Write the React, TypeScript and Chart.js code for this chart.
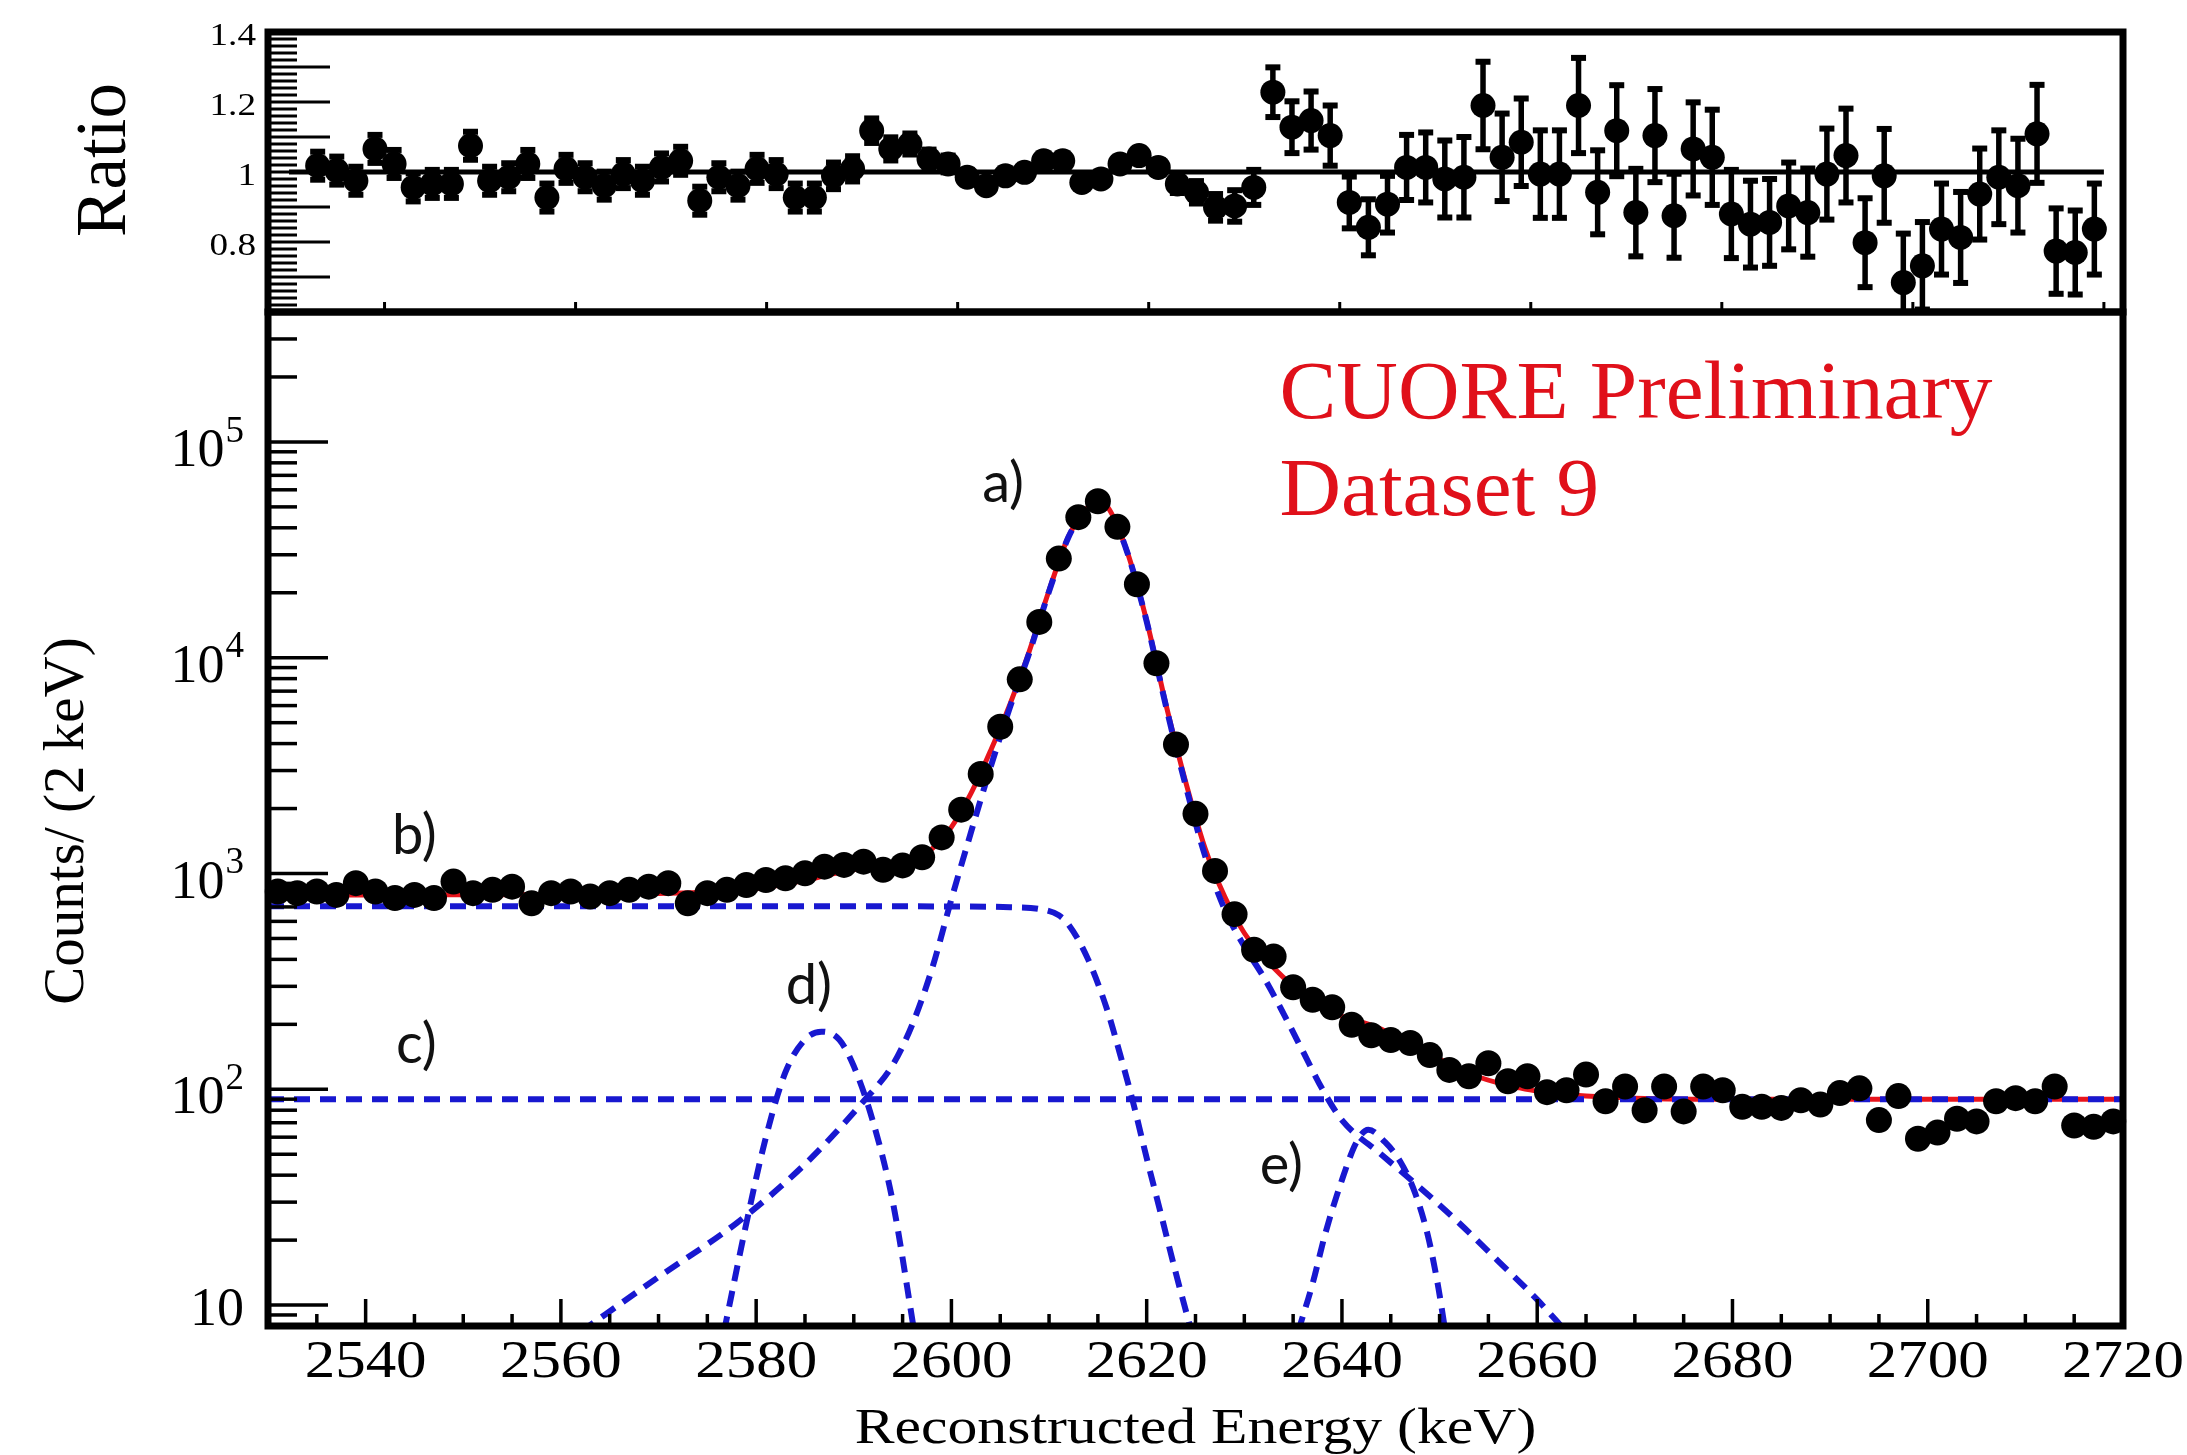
import { useEffect, useRef } from "react";
import { Chart, registerables } from "chart.js";

Chart.register(...registerables);

// ---------------- page / pad layout (pixels) ----------------
const PAGE_W = 2187;
const PAGE_H = 1455;
const FRAME_LEFT = 268;
const FRAME_RIGHT = 2123;
const RATIO_TOP = 32;
const PAD_SPLIT = 312;
const MAIN_BOTTOM = 1326;

const SERIF = "'Liberation Serif', 'Times New Roman', serif";
const SANS = "Lato, 'Open Sans', 'Liberation Sans', sans-serif";

// ---------------- data: main spectrum (2 keV bins) ----------------
const energies = [
  2531, 2533, 2535, 2537, 2539, 2541, 2543, 2545, 2547, 2549,
  2551, 2553, 2555, 2557, 2559, 2561, 2563, 2565, 2567, 2569,
  2571, 2573, 2575, 2577, 2579, 2581, 2583, 2585, 2587, 2589,
  2591, 2593, 2595, 2597, 2599, 2601, 2603, 2605, 2607, 2609,
  2611, 2613, 2615, 2617, 2619, 2621, 2623, 2625, 2627, 2629,
  2631, 2633, 2635, 2637, 2639, 2641, 2643, 2645, 2647, 2649,
  2651, 2653, 2655, 2657, 2659, 2661, 2663, 2665, 2667, 2669,
  2671, 2673, 2675, 2677, 2679, 2681, 2683, 2685, 2687, 2689,
  2691, 2693, 2695, 2697, 2699, 2701, 2703, 2705, 2707, 2709,
  2711, 2713, 2715, 2717, 2719,
];
const counts = [
  825, 811, 825, 796, 902, 825, 769, 796, 769, 917,
  811, 840, 869, 728, 811, 825, 782, 811, 840, 869,
  902, 728, 811, 840, 885, 933, 950, 1003, 1076, 1096,
  1135, 1040, 1090, 1190, 1470, 1976, 2890, 4790, 7940, 14650,
  28800, 44800, 53100, 40400, 21900, 9420, 3960, 1890, 1028, 648,
  443, 413, 297, 260, 240, 199, 178, 169, 164, 144,
  123, 115, 132, 109, 115, 97, 99, 117, 88, 103,
  80, 103, 79, 103, 99, 83, 83, 82, 89, 85,
  96, 101, 72, 93, 59, 63, 73, 71, 88, 91,
  88, 103, 68, 67, 71,
];

// total fit (red)
const totalFitX = [
  2530, 2540, 2550, 2560, 2570, 2575, 2580, 2585, 2588, 2591,
  2594, 2596, 2598, 2600, 2602, 2604, 2606, 2608, 2610, 2612,
  2614, 2615, 2616, 2618, 2620, 2622, 2624, 2626, 2628, 2630,
  2632, 2634, 2636, 2638, 2640, 2642, 2644, 2646, 2648, 2650,
  2652, 2654, 2656, 2658, 2660, 2665, 2670, 2680, 2700, 2720,
];
const totalFitY = [
  795, 795, 797, 800, 808, 818, 850, 930, 1000, 1060,
  1110, 1170, 1300, 1640, 2350, 3700, 6100, 10800, 20500, 36500,
  50000, 53000, 50000, 31000, 14800, 6000, 2650, 1300, 780, 530,
  410, 330, 275, 240, 218, 205, 190, 170, 155, 138,
  124, 114, 107, 102, 98, 93, 91, 90, 90, 90,
];

// component a) : 2615 keV peak
const compAX = [
  2562, 2570, 2578, 2585, 2591, 2594, 2596, 2598, 2600, 2602,
  2604, 2606, 2608, 2610, 2612, 2614, 2615, 2616, 2618, 2620,
  2622, 2624, 2626, 2628, 2630, 2632, 2634, 2636, 2638, 2640,
  2644, 2648, 2652, 2656, 2660, 2663,
];
const compAY = [
  7.5, 13.5, 24, 45, 88, 130, 200, 360, 760, 1550,
  3100, 5900, 10600, 20300, 36300, 49800, 52900, 49900, 30900, 14700,
  5900, 2550, 1200, 680, 460, 330, 225, 150, 100, 72,
  50, 35, 24, 16, 10.6, 7.5,
];
// component b) : step continuum
const compBX = [2530, 2560, 2590, 2600, 2606, 2609, 2611, 2612, 2614, 2616, 2617.3, 2618.5, 2620, 2621.5, 2623, 2624.6];
const compBY = [705, 705, 705, 703, 698, 685, 640, 580, 400, 230, 144, 91, 48, 26, 14, 7.5];
// component c) : flat background
const compCX = [2530, 2720];
const compCY = [90, 90];
// component d) : peak near 2587 keV
const compDX = [2576.7, 2579, 2581, 2583, 2585, 2586.7, 2588.5, 2590, 2592, 2594, 2596.2];
const compDY = [7.5, 24, 60, 120, 170, 185, 170, 128, 70, 30, 7.5];
// component e) : peak near 2643 keV
const compEX = [2635.5, 2637, 2638.3, 2640, 2641.5, 2642.7, 2644.4, 2646, 2647.5, 2648.8, 2649.8, 2650.6];
const compEY = [7.5, 12.6, 21.5, 38, 57, 65, 57, 46, 33, 21, 12.6, 7.5];

// ---------------- data: ratio panel ----------------
const ratioEnergies = [
  2533, 2535, 2537, 2539, 2541, 2543, 2545, 2547, 2549, 2551,
  2553, 2555, 2557, 2559, 2561, 2563, 2565, 2567, 2569, 2571,
  2573, 2575, 2577, 2579, 2581, 2583, 2585, 2587, 2589, 2591,
  2593, 2595, 2597, 2599, 2601, 2603, 2605, 2607, 2609, 2611,
  2613, 2615, 2617, 2619, 2621, 2623, 2625, 2627, 2629, 2631,
  2633, 2635, 2637, 2639, 2641, 2643, 2645, 2647, 2649, 2651,
  2653, 2655, 2657, 2659, 2661, 2663, 2665, 2667, 2669, 2671,
  2673, 2675, 2677, 2679, 2681, 2683, 2685, 2687, 2689, 2691,
  2693, 2695, 2697, 2699, 2701, 2703, 2705, 2707, 2709, 2711,
  2713, 2715, 2717, 2719,
];
const ratioValues = [
  1.018, 1.004, 0.975, 1.066, 1.023, 0.956, 0.966, 0.966, 1.075, 0.975,
  0.985, 1.023, 0.927, 1.009, 0.985, 0.961, 0.994, 0.975, 1.013, 1.032,
  0.918, 0.985, 0.961, 1.009, 0.994, 0.927, 0.927, 0.989, 1.009, 1.118,
  1.066, 1.08, 1.037, 1.023, 0.985, 0.961, 0.989, 0.999, 1.032, 1.032,
  0.97, 0.98, 1.023, 1.047, 1.013, 0.966, 0.942, 0.899, 0.903, 0.956,
  1.228, 1.128, 1.147, 1.104, 0.913, 0.842, 0.908, 1.013, 1.013, 0.98,
  0.985, 1.19, 1.042, 1.085, 0.994, 0.994, 1.19, 0.942, 1.118, 0.884,
  1.104, 0.875, 1.066, 1.042, 0.88, 0.851, 0.856, 0.903, 0.884, 0.994,
  1.047, 0.798, 0.989, 0.684, 0.732, 0.837, 0.813, 0.937, 0.985, 0.961,
  1.109, 0.774, 0.77, 0.837,
];
const ratioErrors = [
  0.04, 0.04, 0.04, 0.04, 0.04, 0.04, 0.04, 0.04, 0.04, 0.04,
  0.04, 0.04, 0.04, 0.04, 0.04, 0.04, 0.04, 0.04, 0.04, 0.04,
  0.04, 0.04, 0.04, 0.04, 0.04, 0.04, 0.04, 0.038, 0.036, 0.035,
  0.033, 0.03, 0.027, 0.024, 0.02, 0.016, 0.012, 0.01, 0.01, 0.01,
  0.01, 0.01, 0.012, 0.015, 0.02, 0.026, 0.032, 0.038, 0.045, 0.05,
  0.071, 0.074, 0.083, 0.086, 0.074, 0.08, 0.081, 0.093, 0.1, 0.11,
  0.115, 0.125, 0.125, 0.125, 0.125, 0.125, 0.136, 0.12, 0.13, 0.125,
  0.133, 0.12, 0.133, 0.136, 0.126, 0.124, 0.124, 0.124, 0.126, 0.13,
  0.134, 0.127, 0.134, 0.14, 0.125, 0.13, 0.13, 0.13, 0.134, 0.134,
  0.14, 0.122, 0.12, 0.13,
];
const ratioFitX = [2530, 2720];
const ratioFitY = [1, 1];

// ---------------- ticks / labels ----------------
const energyTickLabels = [2540, 2560, 2580, 2600, 2620, 2640, 2660, 2680, 2700, 2720];
const ratioTickValues = [1.4, 1.2, 1, 0.8];
const ratioTickTexts = ["1.4", "1.2", "1", "0.8"];
const logTickExponents = [1, 2, 3, 4, 5];
const componentLabels = ["a)", "b)", "c)", "d)", "e)"];
const componentLabelEnergy = [2605.3, 2545.0, 2545.2, 2585.4, 2633.8];
const componentLabelCounts = [63800, 1493, 161, 301, 44.2];
const titleLines = ["CUORE Preliminary", "Dataset 9"];
const titleEnergy = 2633.6;
const titleCounts = [129200, 45900];

function pts(xs: number[], ys: number[]) {
  return xs.map((x, i) => ({ x, y: ys[i] }));
}

function drawText(
  ctx: CanvasRenderingContext2D,
  text: string,
  x: number,
  y: number,
  font: string,
  align: CanvasTextAlign,
  baseline: CanvasTextBaseline,
  sx = 1,
  color = "#000",
  rot = 0
) {
  ctx.save();
  ctx.translate(x, y);
  if (rot) ctx.rotate(rot);
  ctx.scale(sx, 1);
  ctx.font = font;
  ctx.fillStyle = color;
  ctx.textAlign = align;
  ctx.textBaseline = baseline;
  ctx.fillText(text, 0, 0);
  ctx.restore();
}

function hline(ctx: CanvasRenderingContext2D, x1: number, y1: number, x2: number, y2: number) {
  ctx.beginPath();
  ctx.moveTo(x1, y1);
  ctx.lineTo(x2, y2);
  ctx.stroke();
}

const ratioDecor = {
  id: "ratioDecor",
  beforeDatasetsDraw(chart: any) {
    const { ctx, chartArea: a } = chart;
    const xs = chart.scales.x;
    const ys = chart.scales.y;
    ctx.save();
    ctx.beginPath();
    ctx.rect(a.left, a.top, a.right - a.left, a.bottom - a.top);
    ctx.clip();
    ctx.strokeStyle = "#000";
    ctx.fillStyle = "#000";
    ctx.lineWidth = 5.5;
    ratioEnergies.forEach((e, i) => {
      const px = xs.getPixelForValue(e);
      const y1 = ys.getPixelForValue(ratioValues[i] + ratioErrors[i]);
      const y2 = ys.getPixelForValue(ratioValues[i] - ratioErrors[i]);
      hline(ctx, px, y1, px, y2);
      ctx.fillRect(px - 7.5, y1 - 3, 15, 6);
      ctx.fillRect(px - 7.5, y2 - 3, 15, 6);
    });
    ctx.restore();
  },
  afterDraw(chart: any) {
    const { ctx, chartArea: a } = chart;
    const xs = chart.scales.x;
    const ys = chart.scales.y;
    ctx.save();
    ctx.strokeStyle = "#000";
    ctx.lineWidth = 3;
    // y ticks: major 0.1, minor 0.02
    for (let k = 31; k <= 69; k++) {
      const v = k / 50;
      if (v <= ys.min + 1e-9 || v >= ys.max - 1e-9) continue;
      const py = ys.getPixelForValue(v);
      const len = k % 5 === 0 ? 62 : 29;
      hline(ctx, a.left, py, a.left + len, py);
    }
    // x ticks
    for (const v of energyTickLabels) {
      const px = xs.getPixelForValue(v);
      hline(ctx, px, a.bottom, px, a.bottom - 10);
    }
    // frame
    ctx.lineWidth = 7;
    ctx.strokeRect(a.left, a.top, a.right - a.left, a.bottom - a.top);
    ctx.restore();
    // labels
    ratioTickValues.forEach((v, i) => {
      drawText(ctx, ratioTickTexts[i], 256, ys.getPixelForValue(v) + 5, `31px ${SERIF}`, "right", "middle", 1.2);
    });
    drawText(ctx, "Ratio", 106, 160, `71px ${SERIF}`, "center", "middle", 1, "#000", -Math.PI / 2);
  },
};

const mainDecor = {
  id: "mainDecor",
  afterDraw(chart: any) {
    const { ctx, chartArea: a } = chart;
    const xs = chart.scales.x;
    const ys = chart.scales.y;
    ctx.save();
    ctx.strokeStyle = "#000";
    ctx.lineWidth = 3.5;
    // log y ticks
    for (let n = 0; n <= 5; n++) {
      for (let m = 1; m <= 9; m++) {
        const v = m * Math.pow(10, n);
        if (v <= ys.min || v >= ys.max) continue;
        const py = ys.getPixelForValue(v);
        hline(ctx, a.left, py, a.left + (m === 1 ? 60 : 29), py);
      }
    }
    // x ticks
    for (let v = 2535; v < 2720; v += 5) {
      const px = xs.getPixelForValue(v);
      const len = (v - 2520) % 20 === 0 ? 27 : 12;
      hline(ctx, px, a.bottom, px, a.bottom - len);
    }
    ctx.lineWidth = 7;
    ctx.strokeRect(a.left, a.top, a.right - a.left, a.bottom - a.top);
    ctx.restore();

    // y labels
    for (const e of logTickExponents) {
      const py = ys.getPixelForValue(Math.pow(10, e));
      if (e === 1) {
        drawText(ctx, "10", 244, py + 6, `54px ${SERIF}`, "right", "middle");
      } else {
        ctx.save();
        ctx.font = `37px ${SERIF}`;
        const w = ctx.measureText(String(e)).width;
        ctx.restore();
        drawText(ctx, String(e), 244, py - 10, `37px ${SERIF}`, "right", "middle");
        drawText(ctx, "10", 244 - w - 1, py + 10, `54px ${SERIF}`, "right", "middle");
      }
    }
    // x labels
    for (const v of energyTickLabels) {
      drawText(ctx, String(v), xs.getPixelForValue(v), 1363, `53px ${SERIF}`, "center", "middle", 1.15);
    }
    drawText(ctx, "Reconstructed Energy (keV)", (a.left + a.right) / 2, 1443, `51px ${SERIF}`, "center", "alphabetic", 1.17);
    drawText(ctx, "Counts/ (2 keV)", 68, 821, `57px ${SERIF}`, "center", "middle", 1, "#000", -Math.PI / 2);

    // component labels
    componentLabels.forEach((t, i) => {
      drawText(
        ctx,
        t,
        xs.getPixelForValue(componentLabelEnergy[i]),
        ys.getPixelForValue(componentLabelCounts[i]),
        `56px ${SANS}`,
        "center",
        "middle",
        1,
        "#111"
      );
    });
    // preliminary title
    titleLines.forEach((t, i) => {
      drawText(
        ctx,
        t,
        xs.getPixelForValue(titleEnergy),
        ys.getPixelForValue(titleCounts[i]),
        `82px ${SERIF}`,
        "left",
        "alphabetic",
        1.04,
        "#e0101a"
      );
    });
  },
};

const BLUE = "#1818d0";
const RED = "#e8141c";

function dashed(xsArr: number[], ysArr: number[], tension: boolean) {
  return {
    data: pts(xsArr, ysArr),
    showLine: true,
    borderColor: BLUE,
    backgroundColor: BLUE,
    borderWidth: 6,
    borderDash: [16, 10],
    pointRadius: 0,
    cubicInterpolationMode: tension ? "monotone" : "default",
    order: 1,
  };
}

export default function App() {
  const ratioRef = useRef<HTMLCanvasElement>(null);
  const mainRef = useRef<HTMLCanvasElement>(null);

  useEffect(() => {
    const ratioChart = new Chart(ratioRef.current as HTMLCanvasElement, {
      type: "scatter",
      data: {
        datasets: [
          {
            data: pts(ratioFitX, ratioFitY),
            showLine: true,
            borderColor: "#000",
            borderWidth: 5,
            pointRadius: 0,
            order: 2,
          } as any,
          {
            data: pts(ratioEnergies, ratioValues),
            backgroundColor: "#000",
            borderColor: "#000",
            borderWidth: 0,
            pointRadius: 12.5,
            order: 0,
          } as any,
        ],
      },
      options: {
        responsive: false,
        animation: false,
        devicePixelRatio: 1,
        events: [],
        layout: {
          padding: { left: FRAME_LEFT, right: PAGE_W - FRAME_RIGHT, top: RATIO_TOP, bottom: PAGE_H - PAD_SPLIT },
        },
        scales: {
          x: { type: "linear", display: false, min: 2527.8, max: 2722, bounds: "data" } as any,
          y: { type: "linear", display: false, min: 0.6, max: 1.4, bounds: "data" } as any,
        },
        plugins: { legend: { display: false }, tooltip: { enabled: false } },
      } as any,
      plugins: [ratioDecor],
    });

    const mainChart = new Chart(mainRef.current as HTMLCanvasElement, {
      type: "scatter",
      data: {
        datasets: [
          {
            data: pts(totalFitX, totalFitY),
            showLine: true,
            borderColor: RED,
            borderWidth: 5,
            pointRadius: 0,
            cubicInterpolationMode: "monotone",
            order: 2,
          } as any,
          dashed(compAX, compAY, true) as any,
          dashed(compBX, compBY, true) as any,
          dashed(compCX, compCY, false) as any,
          dashed(compDX, compDY, true) as any,
          dashed(compEX, compEY, true) as any,
          {
            data: pts(energies, counts),
            backgroundColor: "#000",
            borderColor: "#000",
            borderWidth: 0,
            pointRadius: 13,
            clip: false,
            order: 0,
          } as any,
        ],
      },
      options: {
        responsive: false,
        animation: false,
        devicePixelRatio: 1,
        events: [],
        layout: {
          padding: { left: FRAME_LEFT, right: PAGE_W - FRAME_RIGHT, top: PAD_SPLIT, bottom: PAGE_H - MAIN_BOTTOM },
        },
        scales: {
          x: { type: "linear", display: false, min: 2530, max: 2720, bounds: "data" } as any,
          y: { type: "logarithmic", display: false, min: 8, max: 400000, bounds: "data" } as any,
        },
        plugins: { legend: { display: false }, tooltip: { enabled: false } },
      } as any,
      plugins: [mainDecor],
    });

    return () => {
      ratioChart.destroy();
      mainChart.destroy();
    };
  }, []);

  const canvasStyle: any = { position: "absolute", left: 0, top: 0, width: PAGE_W, height: PAGE_H };
  return (
    <div
      style={{
        position: "absolute",
        left: 0,
        top: 0,
        width: PAGE_W,
        height: PAGE_H,
        background: "#fff",
        overflow: "hidden",
      }}
    >
      <canvas ref={ratioRef} width={PAGE_W} height={PAGE_H} style={canvasStyle} />
      <canvas ref={mainRef} width={PAGE_W} height={PAGE_H} style={canvasStyle} />
    </div>
  );
}
